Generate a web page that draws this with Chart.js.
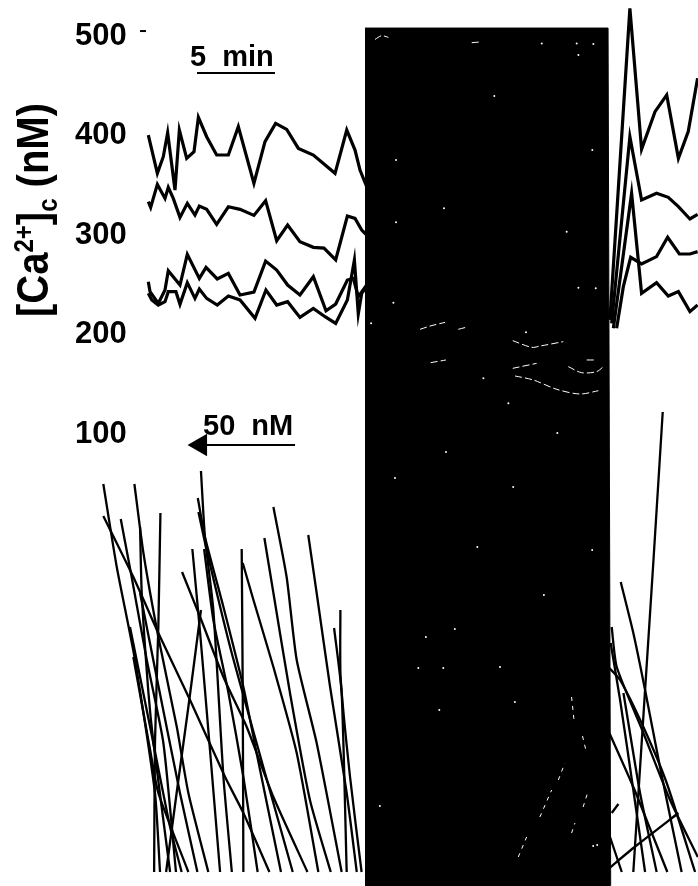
<!DOCTYPE html>
<html>
<head>
<meta charset="utf-8">
<title>[Ca2+]c traces</title>
<script src="https://cdn.jsdelivr.net/npm/chart.js@4/dist/chart.umd.min.js"></script>
<style>
  html, body { margin: 0; background: #fff; }
  canvas { display: block; }
</style>
</head>
<body>
<canvas id="traceChart" width="698" height="886"></canvas>
<script>
// ── DATA ──
const tickValues = [100, 200, 300, 400, 500];

// upper traces, before the block: [min, nM]
const traceA = [[0.02,398.5],[0.6,360],[0.98,376.7],[1.26,400.8],[1.73,343.2],[2.01,403.5],[2.48,375],[2.95,381.7],[3.23,416.2],[3.76,396.8],[4.4,378.4],[5.15,378.4],[5.79,406.9],[6.79,349.9],[7.5,391.8],[8.18,410.2],[8.89,404.2],[9.64,385],[10.6,378.4],[11.99,360],[12.74,403.5],[13.27,383.4],[13.59,363.3],[14.02,346.5]];
const traceB = [[0.02,331.5],[0.17,325.8],[0.6,348.9],[1.09,334.8],[1.3,345.9],[1.62,334.8],[2.05,315.7],[2.52,329.8],[3.01,318.1],[3.29,327.1],[3.76,323.8],[4.4,308.7],[5.15,326.4],[5.9,323.8],[6.79,317.7],[7.54,332.5],[8.25,292.3],[8.95,308],[9.74,291.3],[10.6,285.6],[11.28,284.9],[12.03,272.9],[12.78,317.1],[13.27,314.7],[13.7,303],[14.02,298]];
const traceC = [[0.02,251.1],[0.13,241],[0.66,229.3],[1.09,242.7],[1.3,262.1],[2.05,247.7],[2.52,278.5],[3.29,254.4],[3.72,265.5],[4.44,253.8],[5.15,259.4],[5.9,237.7],[6.79,240.7],[7.54,271.8],[8.25,262.8],[8.95,247.7],[9.74,237.7],[10.6,256.1],[11.41,221.9],[12.03,228.6],[12.78,252.7],[13.16,254.4],[13.48,236],[14.02,247.7]];
const traceD = [[0.02,239.4],[0.24,232.7],[0.66,227.6],[1.09,231],[1.3,241],[1.79,241],[2.05,228.3],[2.52,250.1],[3.01,234.3],[3.29,243.7],[3.76,234.3],[4.44,227.6],[5.15,236.7],[5.9,232.7],[6.86,214.2],[7.56,242.7],[8.25,227.6],[8.95,231],[9.74,215.2],[10.6,224.3],[11.35,215.9],[12.03,209.2],[12.78,232.7],[13.23,272.9],[13.48,218.6],[13.7,239.4],[14.02,246]];

// upper traces, after the block
const traceE = [[29.61,212.6],[30.89,525.8],[31.64,384.1],[32.5,422],[33.25,438.7],[34,375],[34.63,401.9],[35.23,455.5]];
const traceF = [[29.72,209.2],[30.89,396.9],[31.64,333.2],[32.6,339.9],[33.35,335.9],[34,326.5],[34.74,314.1],[35.23,318.8]];
const traceG = [[29.83,204.2],[31,339.9],[31.64,239.4],[32.6,250.1],[33.35,236.7],[34,241.1],[34.74,221],[35.23,227.7]];
const traceH = [[30.04,204.2],[30.47,246.1],[30.94,275.6],[31.64,268.9],[32.6,276.3],[33.31,295.7],[34.06,278.9],[34.74,278.9],[35.23,281.3]];

// the saturated block of overlapping traces
const blockEdge = [[13.91,506],[29.49,506],[29.66,-356]];

// pale glints left inside the block
const glintsUpper = [
  [[14.55,494.6],[14.98,498.3],[15.41,496.6]],
  [[20.75,491.3],[21.28,492]],
  [[17.44,203.2],[18.08,206.5],[19.04,210.2]],
  [[19.89,203.2],[20.38,205.2]],
  [[18.12,169.7],[19.1,172.4]],
  [[23.38,191.8],[24.59,185.1],[25.13,186.4],[26.62,190.8]],
  [[23.38,164],[24.91,169]],
  [[23.53,156.3],[24.7,152.3],[26.2,142.9],[27.69,138.2],[28.87,141.5]],
  [[26.94,165.7],[27.8,159.6],[28.76,160.7],[29.19,165.7]],
  [[28.12,172.4],[28.72,172.4]]
];
const glintsLower = [
  [[246.8,2.9],[250.8,4.9]],
  [[257.1,6.9],[262.7,9.6]],
  [[265.9,10.6],[269,12.3]],
  [[272.2,5.3],[273.8,6.3]],
  [[277.7,7.9],[279.8,9.3]],
  [[272.2,18.9],[273.4,16.5]],
  [[277.4,15],[279,13.6]]
];
const specksUpper = [[25.24,490.6],[27.59,478.9],[28.55,490],[27.48,490.6],[22.2,437.7],[15.9,373.4],[15.9,310.7],[18.97,324.8],[26.84,301.3],[27.59,245],[28.7,244.4],[28.48,383.4],[14.3,209.2],[24.23,200.2],[23.1,128.8],[21.5,154],[15.73,230]];
const specksLower = [[188.1,40.8],[212.4,43.4],[227.3,33.9],[259,29.1],[209.2,17.6],[211.1,21.8],[216.6,25.7],[238.1,21.9],[202.8,24.9],[199.2,21.8],[284.4,4.1],[282.5,4],[244.4,39.9],[282,33.6],[265.4,45.3],[245.2,18.4],[180.9,8]];

// lower panel, left of the block: [nM, min]
const sweepsLeft = [
  [[49.2,40.2],[55.6,31.9],[64.3,22.6],[73.8,9.3],[76.2,1.4]],
  [[49.2,37],[63.5,30.9],[75.4,25.3],[90.5,18.6],[107.2,10.9],[115.9,7.3],[128.3,1.4]],
  [[57.5,36.7],[62.7,30.9],[69.9,22.6],[77.8,14.3],[83.8,1.4]],
  [[64,40.2],[68.3,33.3],[75.4,24.9],[84.2,15.9],[89.7,9.3],[99.2,1.4]],
  [[66.7,35.9],[67.5,29.3],[70.7,19.3],[73.1,14.3],[81,1.4]],
  [[76.4,37.3],[75.4,25.9],[73.8,14.3],[73.4,1.4]],
  [[86.7,31.4],[95.3,26.9],[106.4,20.9],[117.5,15.9],[130.2,8.9],[146.4,1.4]],
  [[91.6,33.7],[95.3,25.3],[100,13.6],[104.8,1.4]],
  [[95.7,27.6],[89.7,17.9],[84.5,9.9],[79.1,1.4]],
  [[95.7,41.5],[97.6,34.9],[101.6,27.6],[106.4,10.9],[110.4,1.4]],
  [[94.2,38.8],[97.6,34.9],[106.4,27.9],[115.9,19.9],[122.2,13.3],[133.8,1.4]],
  [[94.5,37.4],[98.4,33.6],[109.6,23.9],[122.2,14.3],[139.4,1.4]],
  [[97.2,33.7],[101.6,26.6],[108.8,19.3],[115.9,10.9],[122.7,1.4]],
  [[115.1,33.7],[115.6,19.3],[115.9,1.4]],
  [[115.6,32.3],[120.7,28.6],[130.2,21.9],[141.3,13.3],[151.6,1.4]],
  [[125.9,34.8],[130.2,29.3],[138.1,19.3],[147.6,8.6],[157.5,1.4]],
  [[130.2,37.9],[136.5,30.9],[141.3,22.6],[150.8,14.3],[162.7,1.4]],
  [[146.8,35.1],[150.8,29.3],[157.2,19.9],[165.1,9.3],[169.9,1.4]],
  [[159.1,25.8],[162.7,19.3],[165.1,1.4]],
  [[162.1,27.6],[162.2,20.9],[166.7,10.9],[172.2,1.4]],
  [[61.9,25.9],[71.5,15.9],[81,5.9],[86.5,1.4]],
  [[63.5,22.9],[71.5,13.6],[75.4,9.3],[89.7,1.4]],
  [[66.7,29.3],[74.6,20.9],[85.7,9.3],[94,1.4]]
];

// lower panel, right of the block
const sweepsRight = [
  [[315.6,47.4],[311.2,32.6],[307.2,19.6],[301.6,1.4]],
  [[295.6,30.4],[301.6,25.3],[307.2,19.6],[314.3,11.9],[324.6,1.4]],
  [[291.3,25.9],[293.7,21.9],[306.4,15.3],[319.1,8.6],[332.3,2.9]],
  [[290.8,24.3],[295.3,18.6],[301.6,9.6],[307.2,1.4]],
  [[289.7,21.9],[295.3,20.6],[306.4,15.9],[317.5,10.3],[331,1.4]],
  [[290.2,15.3],[301.6,9.9],[310.4,5.3],[317.8,1.4]],
  [[296.9,19.3],[304.8,9.3],[312.7,1.4]],
  [[290.5,4.9],[296.1,1.4]],
  [[290.2,1.8],[301.6,3.8],[323.1,7.3]],
  [[291.3,7.3],[294.5,8.2]]
];

// scale marks
const timeBar = [[3.14,460.8],[8.14,460.8]];
const concBar = [[140.5,86.9],[90.5,86.9]];
const concHead = [[95.5,86.9]];
const topTick = [[-0.51,503],[-0.13,503]];

// ── HELPERS ──
const toPoints = rows => rows.map(r => ({ x: r[0], y: r[1] }));

function traceSet(rows, width) {
  return { data: toPoints(rows), xAxisID: 'x', yAxisID: 'y', borderColor: '#000', borderWidth: width, showLine: true, pointRadius: 0, order: 2 };
}
function sweepSet(rows, width) {
  return { data: toPoints(rows), xAxisID: 'x2', yAxisID: 'y2', borderColor: '#000', borderWidth: width, showLine: true, pointRadius: 0, tension: 0.2, order: 2 };
}

// text that isn't a tick label
const labelsPlugin = {
  id: 'labels',
  afterDatasetsDraw(chart) {
    const c = chart.ctx;
    c.save();
    c.fillStyle = '#000';
    c.textBaseline = 'alphabetic';
    c.font = 'bold 29px "Liberation Sans"';
    c.textAlign = 'left';
    c.fillText('5  min', 190, 66);
    c.fillText('50  nM', 203, 435);

    // rotated y title, with the super and subscript runs
    c.translate(48, 317);
    c.rotate(-Math.PI / 2);
    c.scale(1, 1.12);
    let x = 0;
    [['[Ca', 40, 0], ['2+', 24, -13], [']', 40, 0], ['c', 24, 8], [' (nM)', 40, 0]].forEach(run => {
      c.font = `bold ${run[1]}px "Liberation Sans"`;
      c.fillText(run[0], x, run[2]);
      x += c.measureText(run[0]).width;
    });
    c.restore();
  }
};

// ── CHART ──
new Chart(document.getElementById('traceChart'), {
  type: 'scatter',
  data: {
    datasets: [
      ...[traceA, traceB, traceC, traceD, traceE, traceF, traceG, traceH].map(t => traceSet(t, 3.2)),
      ...sweepsLeft.map(s => sweepSet(s, 2.3)),
      ...sweepsRight.map(s => sweepSet(s, 2.3)),
      {
        data: toPoints(blockEdge), xAxisID: 'x', yAxisID: 'y', borderColor: '#000', borderWidth: 1, backgroundColor: '#000',
        showLine: true, fill: 'start', pointRadius: 0, order: 1
      },
      ...glintsUpper.map(g => ({
        data: toPoints(g), xAxisID: 'x', yAxisID: 'y', borderColor: '#fff', borderWidth: 1, borderDash: [7, 3], showLine: true, pointRadius: 0, tension: 0.3, order: 0
      })),
      ...glintsLower.map(g => ({
        data: toPoints(g), xAxisID: 'x2', yAxisID: 'y2', borderColor: '#fff', borderWidth: 1, borderDash: [4, 5], showLine: true, pointRadius: 0, order: 0
      })),
      { data: toPoints(specksUpper), xAxisID: 'x', yAxisID: 'y', backgroundColor: '#fff', pointRadius: 1, borderWidth: 0, order: 0 },
      { data: toPoints(specksLower), xAxisID: 'x2', yAxisID: 'y2', backgroundColor: '#fff', pointRadius: 1, borderWidth: 0, order: 0 },
      traceSet(timeBar, 2),
      traceSet(topTick, 2),
      { data: toPoints(concBar), xAxisID: 'x2', yAxisID: 'y', borderColor: '#000', borderWidth: 2, showLine: true, pointRadius: 0 },
      {
        data: toPoints(concHead), xAxisID: 'x2', yAxisID: 'y', pointStyle: 'triangle', rotation: -90,
        pointRadius: 13, backgroundColor: '#000', borderColor: '#000', borderWidth: 0
      }
    ]
  },
  options: {
    responsive: false,
    animation: false,
    layout: { padding: 0, autoPadding: false },
    plugins: { legend: { display: false }, tooltip: { enabled: false } },
    scales: {
      x: { type: 'linear', display: false, min: -9.487, max: 35.256 },
      x2: { type: 'linear', display: false, min: 0, max: 332.4 },
      y2: { type: 'linear', display: false, min: 0, max: 88.6 },
      y: {
        type: 'linear',
        position: 'left',
        min: -356.3,
        max: 534.2,
        border: { display: false },
        grid: { display: false, drawTicks: false },
        afterBuildTicks: axis => { axis.ticks = tickValues.map(v => ({ value: v })); },
        afterFit: axis => {
          axis.width = 0;
          axis.paddingTop = axis.paddingBottom = axis.paddingLeft = axis.paddingRight = 0;
        },
        ticks: {
          mirror: true,
          padding: 75,
          labelOffset: 2,
          color: '#000',
          font: { family: 'Liberation Sans', size: 31, weight: 'bold' }
        }
      }
    }
  },
  plugins: [labelsPlugin]
});
</script>
</body>
</html>
